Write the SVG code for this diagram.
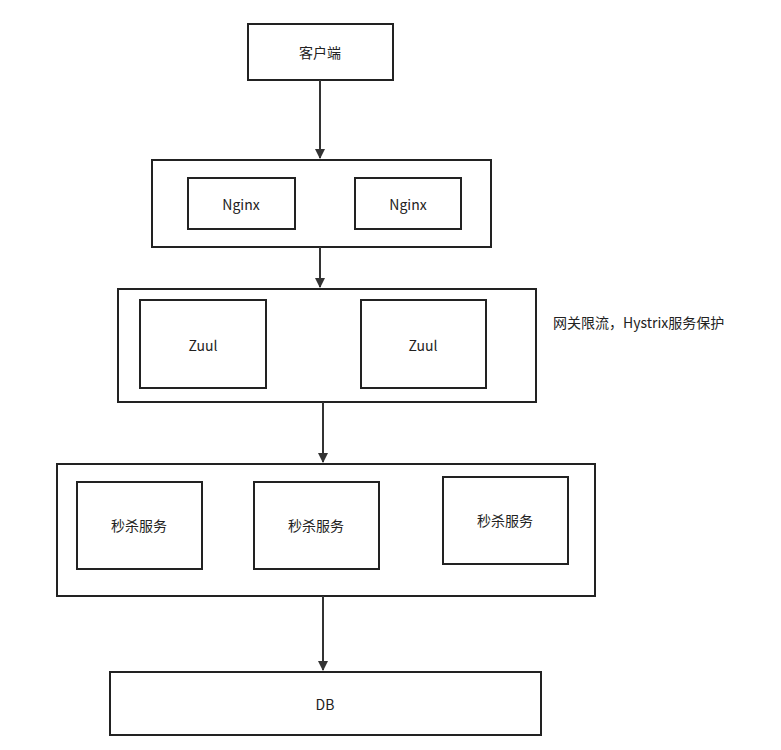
<svg xmlns="http://www.w3.org/2000/svg" width="781" height="750" viewBox="0 0 781 750">
<style>
rect{fill:#fff;stroke:#222;stroke-width:2}
text{font-family:"Noto Sans CJK SC","Liberation Sans",sans-serif;font-size:14px;fill:#222;text-anchor:middle;dominant-baseline:central}
.c line{stroke:#333;stroke-width:2}
</style>
<defs><marker id="a" markerWidth="10" markerHeight="10" refX="9" refY="5" orient="auto" markerUnits="userSpaceOnUse"><path d="M0,0L10,5L0,10Z" fill="#333"/></marker></defs>
<rect x="0" y="0" width="781" height="750" style="stroke:none"/>
<g id="client"><rect x="248" y="24" width="145" height="56"/><text x="320" y="52">客户端</text></g>
<g id="nginxGroup"><rect x="152" y="160" width="339" height="87"/></g>
<g id="nginx1"><rect x="188" y="178" width="107" height="51"/><text x="241" y="204">Nginx</text></g>
<g id="nginx2"><rect x="355" y="178" width="106" height="51"/><text x="408" y="204">Nginx</text></g>
<g id="zuulGroup"><rect x="118" y="289" width="418" height="113"/></g>
<g id="zuul1"><rect x="140" y="300" width="126" height="88"/><text x="203" y="345">Zuul</text></g>
<g id="zuul2"><rect x="361" y="300" width="125" height="88"/><text x="423" y="345">Zuul</text></g>
<g id="note"><text x="553" y="322" style="text-anchor:start">网关限流，Hystrix服务保护</text></g>
<g id="svcGroup"><rect x="57" y="464" width="538" height="132"/></g>
<g id="svc1"><rect x="77" y="482" width="125" height="87"/><text x="139" y="525">秒杀服务</text></g>
<g id="svc2"><rect x="254" y="482" width="125" height="87"/><text x="316" y="525">秒杀服务</text></g>
<g id="svc3"><rect x="443" y="477" width="125" height="87"/><text x="505" y="520">秒杀服务</text></g>
<g id="db"><rect x="110" y="672" width="431" height="63"/><text x="325" y="704">DB</text></g>
<g class="c">
<line x1="320" y1="80" x2="320" y2="158" marker-end="url(#a)"/>
<line x1="320" y1="247" x2="320" y2="287" marker-end="url(#a)"/>
<line x1="323" y1="402" x2="323" y2="462" marker-end="url(#a)"/>
<line x1="323" y1="596" x2="323" y2="670" marker-end="url(#a)"/>
</g>
</svg>
